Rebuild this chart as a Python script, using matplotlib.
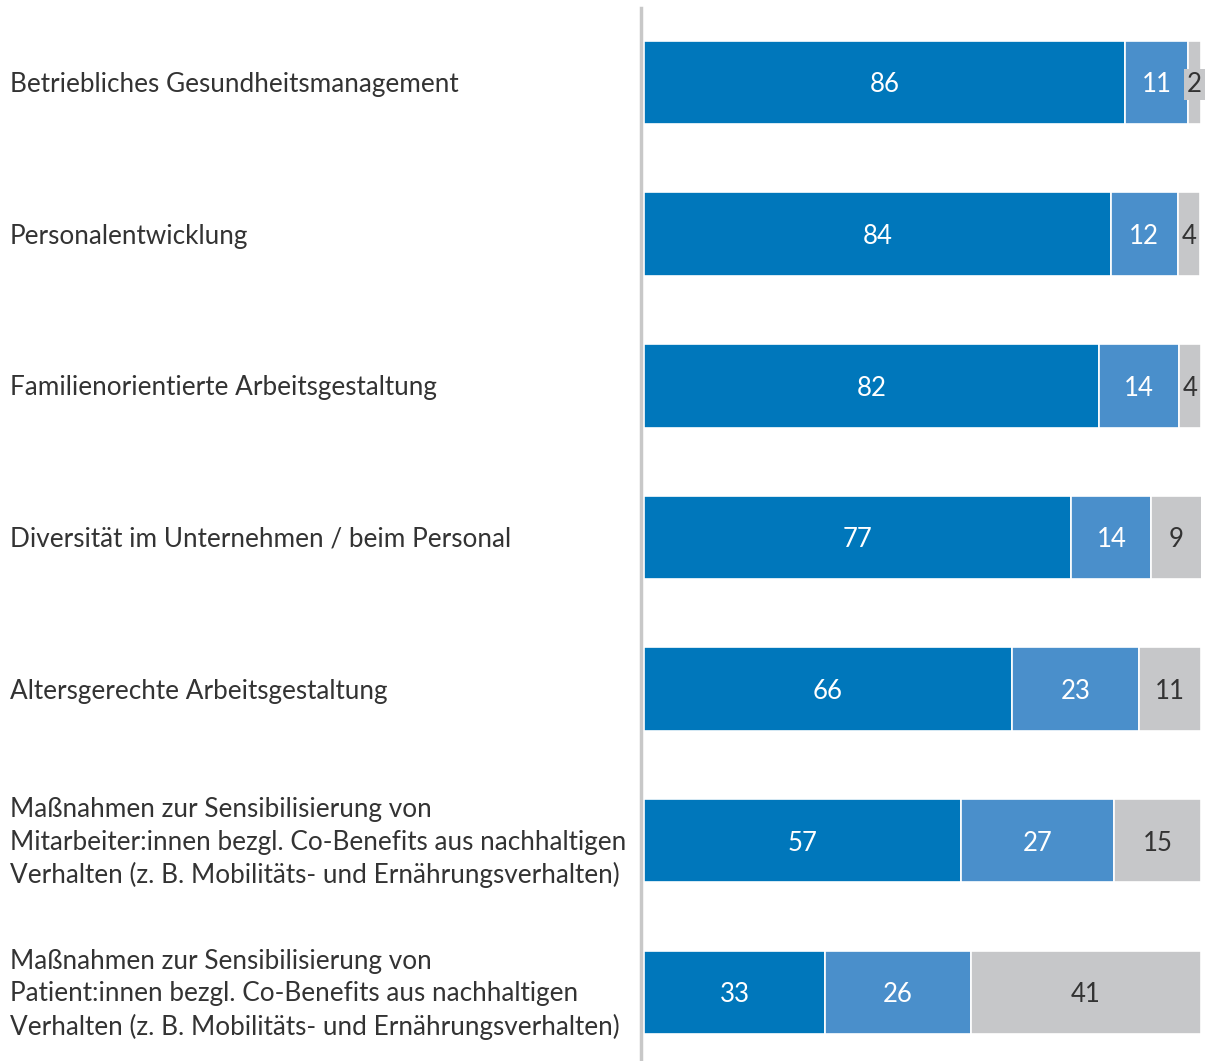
import matplotlib.pyplot as plt
import numpy as np

plt.rcParams['font.family'] = ['Lato', 'DejaVu Sans']

labels = ['Betriebliches Gesundheitsmanagement',
          'Personalentwicklung',
          'Familienorientierte Arbeitsgestaltung',
          'Diversität im Unternehmen / beim Personal',
          'Altersgerechte Arbeitsgestaltung',
          'Maßnahmen zur Sensibilisierung von\nMitarbeiter:innen bezgl. Co-Benefits aus nachhaltigen\nVerhalten (z. B. Mobilitäts- und Ernährungsverhalten)',
          'Maßnahmen zur Sensibilisierung von\nPatient:innen bezgl. Co-Benefits aus nachhaltigen\nVerhalten (z. B. Mobilitäts- und Ernährungsverhalten)']
# bar lengths (unrounded, as measured) and the printed labels
ja = [86.4, 83.8, 81.7, 76.7, 66.1, 56.9, 32.5]
teilweise = [11.3, 12.0, 14.4, 14.4, 22.8, 27.5, 26.2]
nein = [2.3, 4.1, 3.9, 9.0, 11.1, 15.6, 41.3]
ja_lab = [86, 84, 82, 77, 66, 57, 33]
teilweise_lab = [11, 12, 14, 14, 23, 27, 26]
nein_lab = [2, 4, 4, 9, 11, 15, 41]

colors = ['#0077BB', '#4A8FCB', '#C6C7C9']
textcol = ['white', 'white', '#333333']

fig = plt.figure(figsize=(12.06, 10.61), dpi=100)
ax = fig.add_axes([644/1206, 0, (1201-644)/1206, (1061-8)/1061])

y = np.arange(len(labels))
left = np.zeros(len(labels))
for i, (vals, labs) in enumerate([(ja, ja_lab), (teilweise, teilweise_lab), (nein, nein_lab)]):
    vals = np.array(vals)
    ax.barh(y, vals, left=left, height=0.55, color=colors[i],
            edgecolor='white', linewidth=1.2)
    for k in range(len(vals)):
        cx = left[k] + vals[k] / 2
        if vals[k] < 3:
            ax.text(cx, y[k] + 0.015, str(labs[k]), ha='center', va='center',
                    fontsize=18.5, color=textcol[i],
                    bbox=dict(boxstyle='square,pad=0.12', fc=colors[i], ec='none'))
        else:
            ax.text(cx, y[k] + 0.015, str(labs[k]), ha='center', va='center',
                    fontsize=18.5, color=textcol[i])
    left = left + vals

ax.set_xlim(0, 100)
ax.set_ylim(6.452, -0.491)
ax.set_xticks([])
ax.set_yticks([])
for s in ['top', 'right', 'bottom']:
    ax.spines[s].set_visible(False)
ax.spines['left'].set_color('#C8C8C8')
ax.spines['left'].set_linewidth(2.5)
ax.spines['left'].set_position(('outward', 2))

for k, lab in enumerate(labels):
    yy = ax.transData.transform((0, y[k]))[1] - 2
    fig.text(10/1206, yy/1061, lab, ha='left', va='center', fontsize=18.8,
             color='#333333', linespacing=1.37)

fig.savefig('out.png', dpi=100)
